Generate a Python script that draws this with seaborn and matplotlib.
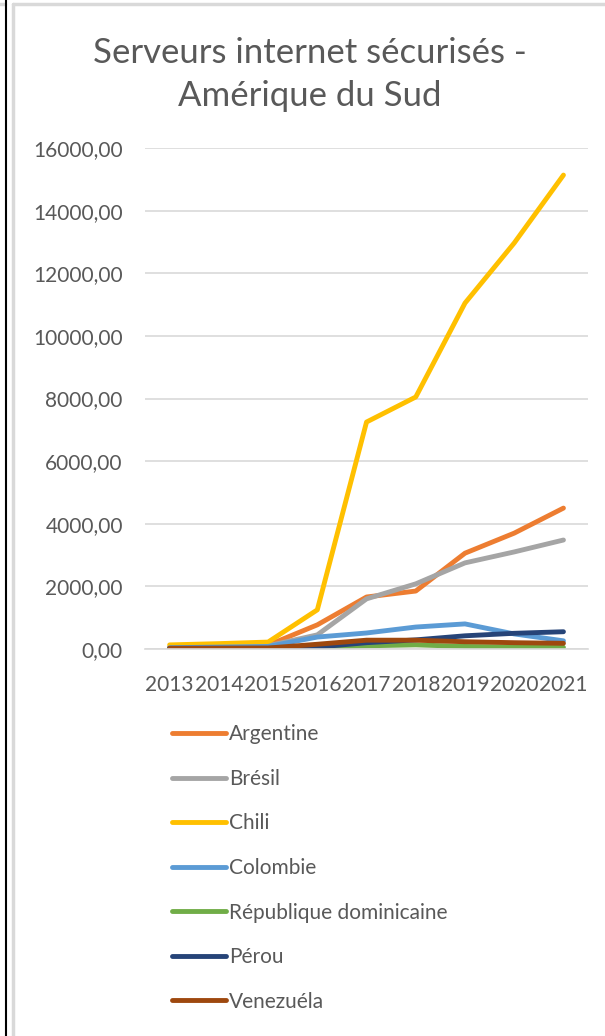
import pandas as pd
import matplotlib
matplotlib.use("Agg")
import matplotlib.pyplot as plt
import seaborn as sns
from matplotlib.lines import Line2D
from matplotlib.ticker import FuncFormatter, MultipleLocator

# Data
years = ["2013", "2014", "2015", "2016", "2017", "2018", "2019", "2020", "2021"]
argentine = [50, 70, 120, 770, 1660, 1850, 3060, 3700, 4500]
bresil = [50, 70, 100, 450, 1600, 2080, 2750, 3100, 3480]
chili = [130, 170, 220, 1250, 7250, 8050, 11050, 12970, 15140]
colombie = [40, 60, 80, 380, 510, 700, 800, 480, 260]
rep_dom = [10, 12, 15, 40, 100, 130, 80, 60, 50]
perou = [20, 20, 20, 60, 200, 290, 420, 500, 550]
venezuela = [20, 25, 30, 150, 280, 280, 230, 200, 180]

countries = ["Argentine", "Brésil", "Chili", "Colombie",
             "République dominicaine", "Pérou", "Venezuéla"]
colors = ["#ED7D31", "#A5A5A5", "#FFC000", "#5B9BD5",
          "#70AD47", "#264478", "#9E480E"]

series = [argentine, bresil, chili, colombie, rep_dom, perou, venezuela]
df = pd.DataFrame({
    "year": years * len(countries),
    "pays": [c for c in countries for _ in years],
    "value": [v for s in series for v in s],
})
df["x"] = df["year"].map({y: i for i, y in enumerate(years)})

sns.set_theme(style="white")
plt.rcParams["font.family"] = ["Lato", "DejaVu Sans"]
text_col = "#595959"
grid_col = "#D9D9D9"

fig = plt.figure(figsize=(6.05, 10.36), dpi=100)
ax = fig.add_axes([0.2397, 0.3736, 0.972 - 0.2397, 0.857 - 0.3736])

sns.lineplot(data=df, x="x", y="value", hue="pays", hue_order=countries,
             palette=colors, linewidth=3.5, ax=ax, legend=False,
             solid_capstyle="round", solid_joinstyle="round")

ax.set_ylim(0, 16000)
ax.set_xlim(-0.5, len(years) - 0.5)
ax.yaxis.set_major_locator(MultipleLocator(2000))
ax.yaxis.set_major_formatter(FuncFormatter(lambda v, p: f"{v:.2f}".replace(".", ",")))
ax.set_xticks(range(len(years)))
ax.set_xticklabels(years)
ax.set_xlabel("")
ax.set_ylabel("")
ax.grid(axis="y", color=grid_col, linewidth=1.2)
ax.set_axisbelow(True)
for s in ["top", "right", "left"]:
    ax.spines[s].set_visible(False)
ax.spines["bottom"].set_color(grid_col)
ax.spines["bottom"].set_linewidth(1.2)
ax.tick_params(axis="y", length=0, pad=16, labelsize=15, labelcolor=text_col)
ax.tick_params(axis="x", length=0, pad=19, labelsize=15, labelcolor=text_col)

fig.text(0.512, 0.928, "Serveurs internet sécurisés -\nAmérique du Sud",
         ha="center", va="center", fontsize=25, color=text_col, linespacing=1.42)

handles = [Line2D([0], [0], color=c, lw=3.5, solid_capstyle="round") for c in colors]
leg = fig.legend(handles, countries, loc="upper left",
                 bbox_to_anchor=(0.27, 0.309), frameon=False, fontsize=15,
                 handlelength=2.6, handletextpad=0.15, labelspacing=1.18,
                 borderaxespad=0)
for t in leg.get_texts():
    t.set_color(text_col)

# frame around the chart and the sheet edge on the left
fig.add_artist(Line2D([13 / 605, 13 / 605], [0, 1 - 4 / 1036], color=grid_col, lw=2.5))
fig.add_artist(Line2D([13 / 605, 1], [1 - 4 / 1036, 1 - 4 / 1036], color=grid_col, lw=2.5))
fig.add_artist(Line2D([0, 5 / 605], [1 - 4 / 1036, 1 - 4 / 1036], color=grid_col, lw=2.5))
fig.add_artist(Line2D([5.5 / 605, 5.5 / 605], [0, 1], color="black", lw=1.5))

fig.savefig("out.png", dpi=100)
